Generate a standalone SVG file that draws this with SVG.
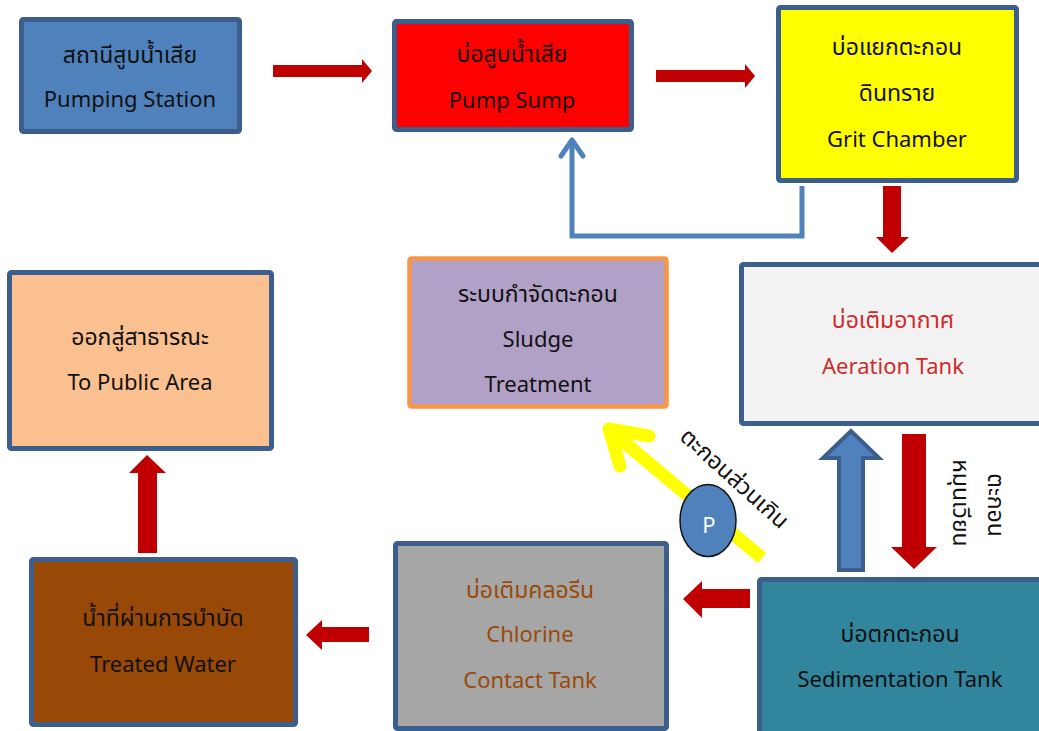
<svg xmlns="http://www.w3.org/2000/svg" width="1039" height="731" viewBox="0 0 1039 731">
<style>
  .box{stroke:#3b5e8c;stroke-width:5;}
  .t{font-family:"Noto Sans Thai","Noto Sans","Open Sans",sans-serif;font-size:22px;text-anchor:middle;fill:#111;}
  .th{font-size:23px;}
  .red{fill:#c00000;}
  .ra{fill:#d02a2a;}
  .br{fill:#9a4a0a;}
</style>
<rect width="1039" height="731" fill="#ffffff"/>
<g id="connectors">
  <polygon class="red" points="273,65 362,65 362,59 372,71 362,83 362,77 273,77"/>
  <polygon class="red" points="656,70 745,70 745,64 755,76 745,88 745,82 656,82"/>
  <polygon class="red" points="883,186 901,186 901,237 909,237 892,253 876,237 883,237"/>
  <polygon class="red" points="902,434 926,434 926,547 937,547 914,569 891,547 902,547"/>
  <polygon points="839,570 839,458 823,458 851,431 879,458 863,458 863,570" fill="#4f81bd" stroke="#3b5e8c" stroke-width="4"/>
  <polygon class="red" points="750,589 702,589 702,581 683,599 702,618 702,608 750,608"/>
  <polygon class="red" points="369,627 322,627 322,620 306,635 322,650 322,642 369,642"/>
  <polygon class="red" points="138,553 138,473 129,473 147,455 166,473 157,473 157,553"/>
  <path d="M802,186 V236 H572 V140" fill="none" stroke="#4f81bd" stroke-width="5"/>
  <path d="M561,156 L572,140 L583,156" fill="none" stroke="#4f81bd" stroke-width="5" stroke-linecap="round" stroke-linejoin="round"/>
  <line x1="762" y1="558" x2="612" y2="432" stroke="#ffff00" stroke-width="13"/>
  <path d="M649,436 L609,429 L620,466" fill="none" stroke="#ffff00" stroke-width="13" stroke-linecap="round" stroke-linejoin="round"/>
  <text class="t th" transform="translate(734,479) rotate(42)" x="0" y="7">ตะกอนส่วนเกิน</text>
  <text class="t th" transform="translate(995,505) rotate(90)" x="0" y="7">ตะกอน</text>
  <text class="t th" transform="translate(960,503) rotate(90)" x="0" y="7">หมุนเวียน</text>
</g>
<g id="pump">
  <ellipse cx="708" cy="520.5" rx="28" ry="36" fill="#4f81bd" stroke="#111" stroke-width="1.5"/>
  <text class="t" x="709" y="533" style="fill:#fff;font-size:22px">P</text>
</g>
<g id="pumping-station">
  <rect class="box" x="21.5" y="19.5" width="218" height="112" rx="2" fill="#4f81bd"/>
  <text class="t th" x="130" y="63">สถานีสูบน้ำเสีย</text>
  <text class="t" x="130" y="107">Pumping Station</text>
</g>
<g id="pump-sump">
  <rect class="box" x="394.5" y="21.5" width="237" height="108" rx="2" fill="#ff0000"/>
  <text class="t th" x="512" y="62">บ่อสูบน้ำเสีย</text>
  <text class="t" x="512" y="108">Pump Sump</text>
</g>
<g id="grit-chamber">
  <rect class="box" x="778.5" y="7.5" width="238" height="173" rx="2" fill="#ffff00"/>
  <text class="t th" x="897" y="55">บ่อแยกตะกอน</text>
  <text class="t th" x="897" y="101">ดินทราย</text>
  <text class="t" x="897" y="147">Grit Chamber</text>
</g>
<g id="aeration-tank">
  <rect class="box" x="741.5" y="264.5" width="310" height="159" rx="2" fill="#f2f2f2"/>
  <text class="t th ra" x="893" y="328">บ่อเติมอากาศ</text>
  <text class="t ra" x="893" y="374">Aeration Tank</text>
</g>
<g id="sludge-treatment">
  <rect x="409.5" y="258.5" width="257" height="148" rx="2" fill="#b2a1c7" stroke="#f79646" stroke-width="4.5"/>
  <text class="t th" x="538" y="302">ระบบกำจัดตะกอน</text>
  <text class="t" x="538" y="347">Sludge</text>
  <text class="t" x="538" y="392">Treatment</text>
</g>
<g id="public-area">
  <rect class="box" x="9.5" y="272.5" width="262" height="176" rx="2" fill="#fac090"/>
  <text class="t th" x="140" y="345">ออกสู่สาธารณะ</text>
  <text class="t" x="140" y="390">To Public Area</text>
</g>
<g id="treated-water">
  <rect class="box" x="31.5" y="559.5" width="264" height="165" rx="2" fill="#984807"/>
  <text class="t th" x="163" y="626">น้ำที่ผ่านการบำบัด</text>
  <text class="t" x="163" y="672">Treated Water</text>
</g>
<g id="chlorine-tank">
  <rect class="box" x="395.5" y="543.5" width="271" height="185" rx="2" fill="#a6a6a6"/>
  <text class="t th br" x="530" y="598">บ่อเติมคลอรีน</text>
  <text class="t br" x="530" y="642">Chlorine</text>
  <text class="t br" x="530" y="688">Contact Tank</text>
</g>
<g id="sedimentation-tank">
  <rect class="box" x="759.5" y="579.5" width="290" height="160" rx="2" fill="#31859c"/>
  <text class="t th" x="900" y="642">บ่อตกตะกอน</text>
  <text class="t" x="900" y="687">Sedimentation Tank</text>
</g>
</svg>
